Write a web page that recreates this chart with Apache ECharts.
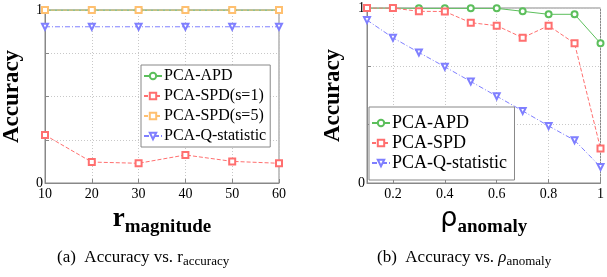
<!DOCTYPE html>
<html>
<head>
    <meta charset="utf-8">
    <title>Accuracy</title>
    <script src="https://cdn.jsdelivr.net/npm/echarts@6/dist/echarts.min.js"></script>
    <style>
        html, body { margin: 0; padding: 0; background: #fff; }
        #main { width: 607px; height: 277px; }
    </style>
</head>
<body>
<div id="main"></div>
<script type="text/javascript">
    // data
    var magnitudes = [10, 20, 30, 40, 50, 60];
    var apdA = [1, 1, 1, 1, 1, 1];
    var spd1A = [0.277, 0.121, 0.114, 0.162, 0.125, 0.114];
    var spd5A = [1, 1, 1, 1, 1, 1];
    var qstatA = [0.903, 0.903, 0.903, 0.903, 0.903, 0.903];

    var anomalies = [0.1, 0.2, 0.3, 0.4, 0.5, 0.6, 0.7, 0.8, 0.9, 1.0];
    var apdB = [1.0, 1.0, 0.998, 0.998, 0.998, 0.998, 0.981, 0.964, 0.964, 0.798];
    var spdB = [1.0, 1.0, 0.981, 0.98, 0.916, 0.899, 0.83, 0.899, 0.798, 0.197];
    var qstatB = [0.931, 0.83, 0.746, 0.664, 0.58, 0.496, 0.412, 0.326, 0.244, 0.092];

    var xTicksB = [0.2, 0.4, 0.6, 0.8, 1];

    var serif = '"Liberation Serif", "DejaVu Serif", serif';
    var green = '#5cbf5c', red = '#ff6f6f', orange = '#ffc070', blue = '#7f7fff';

    function pairs(xs, ys) {
        var out = [];
        for (var i = 0; i < xs.length; i++) out.push([xs[i], ys[i]]);
        return out;
    }

    function mkSeries(name, xi, data, color, symbol, lineType, rot) {
        return {
            name: name,
            type: 'line',
            xAxisIndex: xi,
            yAxisIndex: xi,
            data: data,
            symbol: symbol,
            symbolSize: 6,
            symbolRotate: rot || 0,
            showSymbol: true,
            animation: false,
            lineStyle: {color: color, width: 1, type: lineType},
            itemStyle: {color: color, borderWidth: 1}
        };
    }

    var axisCommon = {
        axisLine: {show: true, onZero: false, lineStyle: {color: '#888', width: 1}},
        axisTick: {show: true, inside: true, length: 4, lineStyle: {color: '#888'}},
        splitLine: {show: true, lineStyle: {color: '#c8c8c8', type: [1, 2], width: 1}},
        axisLabel: {color: '#000', fontFamily: serif, fontSize: 14, margin: 4}
    };

    function yLabel(v) {
        if (Math.abs(v - 1) < 1e-6) return '1';
        if (Math.abs(v) < 1e-6) return '0';
        return '';
    }

    var yName = {
        name: 'Accuracy',
        nameLocation: 'middle',
        nameRotate: 90,
        nameTextStyle: {fontFamily: serif, fontWeight: 'bold', fontSize: 23, color: '#000'}
    };

    var legendCommon = {
        orient: 'vertical',
        itemWidth: 18,
        itemHeight: 8,
        symbolRotate: 180,
        backgroundColor: '#fff',
        borderColor: '#888',
        borderWidth: 1,
        borderRadius: 0
    };

    var myChart = echarts.init(document.getElementById('main'));
    var option = {
        backgroundColor: '#fff',
        animation: false,
        grid: [
            {left: 40, right: 328, top: 10, bottom: 94, show: true, borderColor: '#888', borderWidth: 1},
            {left: 367, right: 1, top: 8, bottom: 94, show: true, borderColor: '#888', borderWidth: 1}
        ],
        xAxis: [
            Object.assign({}, axisCommon, {
                type: 'value', gridIndex: 0, min: 10, max: 60, interval: 10,
                name: '{m|r}{s|magnitude}',
                nameLocation: 'middle',
                nameGap: 19,
                nameTextStyle: {
                    rich: {
                        m: {fontFamily: serif, fontWeight: 'bold', fontSize: 27, color: '#000', verticalAlign: 'top'},
                        s: {fontFamily: serif, fontWeight: 'bold', fontSize: 19, color: '#000', padding: [12, 0, 0, 0]}
                    }
                }
            }),
            Object.assign({}, axisCommon, {
                type: 'value', gridIndex: 1, min: 0.1, max: 1,
                axisTick: {show: true, inside: true, length: 4, lineStyle: {color: '#888'}, customValues: xTicksB},
                axisLabel: {color: '#000', fontFamily: serif, fontSize: 14, margin: 4, customValues: xTicksB,
                    formatter: function (v) { return Math.abs(v - 1) < 1e-6 ? '1' : v.toFixed(1); }},
                name: '{m|\u03c1}{s|anomaly}',
                nameLocation: 'middle',
                nameGap: 19,
                nameTextStyle: {
                    rich: {
                        m: {fontFamily: '"DejaVu Sans", sans-serif', fontSize: 27, color: '#000', verticalAlign: 'top'},
                        s: {fontFamily: serif, fontWeight: 'bold', fontSize: 19, color: '#000', padding: [12, 0, 0, 0]}
                    }
                }
            })
        ],
        yAxis: [
            Object.assign({}, axisCommon, yName, {
                type: 'value', gridIndex: 0, min: 0, max: 1, interval: 0.25, nameGap: 21,
                axisLabel: {color: '#000', fontFamily: serif, fontSize: 14, margin: 2, formatter: yLabel}
            }),
            Object.assign({}, axisCommon, yName, {
                type: 'value', gridIndex: 1, min: 0, max: 1, interval: 1 / 3, nameGap: 22,
                axisLabel: {color: '#000', fontFamily: serif, fontSize: 14, margin: 2, formatter: yLabel}
            })
        ],
        legend: [
            Object.assign({}, legendCommon, {
                data: ['PCA-APD', 'PCA-SPD(s=1)', 'PCA-SPD(s=5)', 'PCA-Q-statistic'],
                left: 141, top: 65,
                itemGap: 4, padding: [3, 4, 3, 2],
                textStyle: {fontFamily: serif, fontSize: 16, lineHeight: 16, color: '#000', padding: [0, 0, 0, -3]}
            }),
            Object.assign({}, legendCommon, {
                data: ['PCA-APD ', 'PCA-SPD', 'PCA-Q-statistic '],
                left: 369, top: 107,
                itemGap: 2, padding: [7, 3, 8, 2],
                textStyle: {fontFamily: serif, fontSize: 18, lineHeight: 17, color: '#000', padding: [0, 0, 0, -3]}
            })
        ],
        series: [
            mkSeries('PCA-APD', 0, pairs(magnitudes, apdA), green, 'emptyCircle', 'solid'),
            mkSeries('PCA-SPD(s=1)', 0, pairs(magnitudes, spd1A), red, 'emptyRect', [4, 2]),
            mkSeries('PCA-SPD(s=5)', 0, pairs(magnitudes, spd5A), orange, 'emptyRect', [4, 2]),
            mkSeries('PCA-Q-statistic', 0, pairs(magnitudes, qstatA), blue, 'emptyTriangle', [5, 2, 1, 2], 180),
            mkSeries('PCA-APD ', 1, pairs(anomalies, apdB), green, 'emptyCircle', 'solid'),
            mkSeries('PCA-SPD', 1, pairs(anomalies, spdB), red, 'emptyRect', [4, 2]),
            mkSeries('PCA-Q-statistic ', 1, pairs(anomalies, qstatB), blue, 'emptyTriangle', [5, 2, 1, 2], 180)
        ],
        graphic: [
            {
                type: 'text', left: 57, top: 249,
                style: {
                    text: '{t|(a)  Accuracy vs. r}{s|accuracy}',
                    rich: {
                        t: {fontFamily: serif, fontSize: 17, fill: '#000'},
                        s: {fontFamily: serif, fontSize: 13, fill: '#000', padding: [8, 0, 0, 0]}
                    }
                }
            },
            {
                type: 'text', left: 377, top: 249,
                style: {
                    text: '{t|(b)  Accuracy vs. }{i|\u03c1}{s|anomaly}',
                    rich: {
                        t: {fontFamily: serif, fontSize: 17, fill: '#000'},
                        i: {fontFamily: serif, fontStyle: 'italic', fontSize: 17, fill: '#000'},
                        s: {fontFamily: serif, fontSize: 13, fill: '#000', padding: [8, 0, 0, 0]}
                    }
                }
            }
        ]
    };
    myChart.setOption(option);
</script>
</body>
</html>
